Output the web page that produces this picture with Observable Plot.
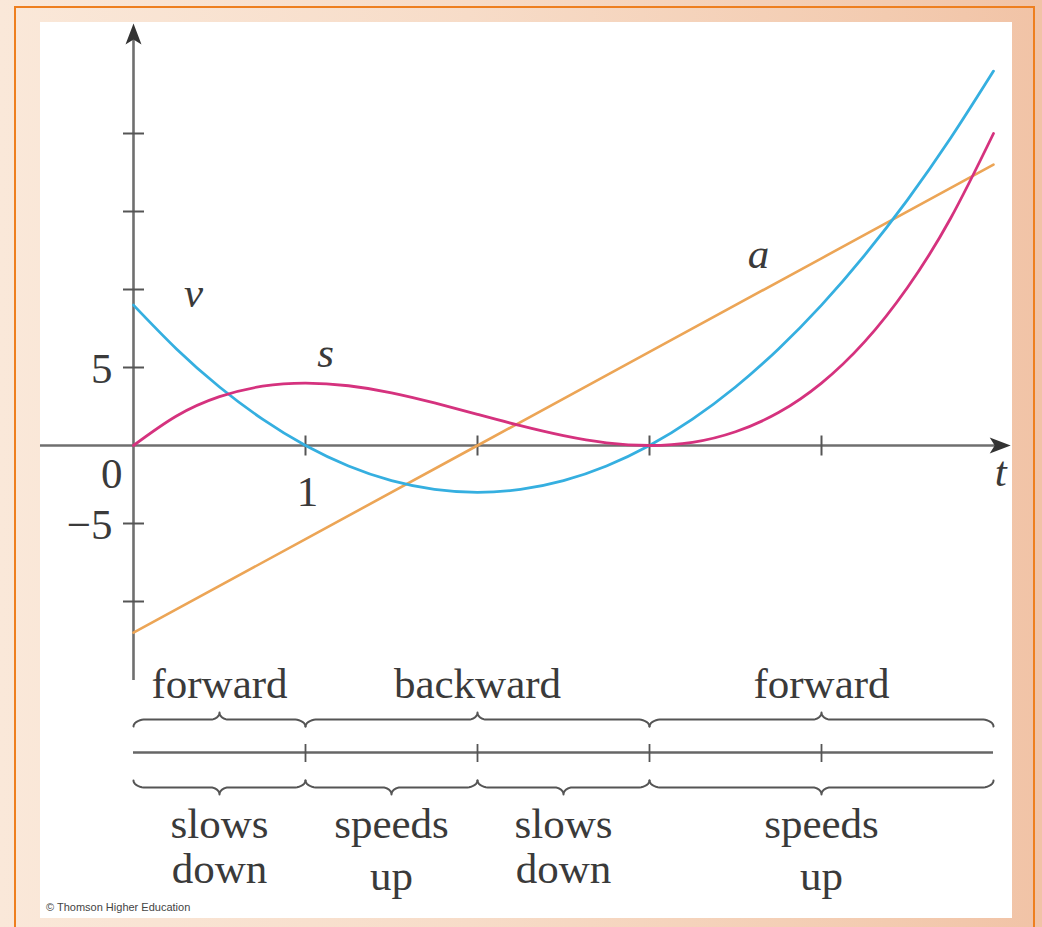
<!DOCTYPE html>
<html>
<head>
<meta charset="utf-8">
<script src="https://cdn.jsdelivr.net/npm/d3@7"></script>
<script src="https://cdn.jsdelivr.net/npm/@observablehq/plot@0.6"></script>
<style>
  body { margin: 0; }
  #page { position: relative; width: 1042px; height: 927px; overflow: hidden;
    background: linear-gradient(90deg, #fae8d9 0%, #f7dcc8 45%, #f3cbb0 85%, #f1c3a6 100%); }
  #frame { position: absolute; left: 14px; top: 6px; width: 1021px; height: 960px;
    border: 2px solid #ee7f1f; box-sizing: border-box; }
  #paper { position: absolute; left: 40px; top: 22px; width: 972px; height: 896px; background: #fff; }
  #main { position: absolute; left: 0; top: 0; }
  #lanes { position: absolute; left: 0; top: 628px; }
  #credit { position: absolute; left: 6px; top: 878px; font: 11px "Liberation Sans", Arial, sans-serif;
    color: #444; line-height: 14px; white-space: nowrap; }
  svg { overflow: visible; }
</style>
</head>
<body>
<div id="page">
  <div id="frame"></div>
  <div id="paper">
    <div id="main"></div>
    <div id="lanes"></div>
    <div id="credit">© Thomson Higher Education</div>
  </div>
</div>
<script>
// ---- data ----
const tValues = [0, 0.25, 0.5, 0.75, 1, 1.25, 1.5, 1.75, 2, 2.25, 2.5, 2.75, 3, 3.25, 3.5, 3.75, 4, 4.25, 4.5, 4.75, 5];
const sValues = [0, 1.89, 3.13, 3.8, 4, 3.83, 3.38, 2.73, 2, 1.27, 0.63, 0.17, 0, 0.2, 0.88, 2.11, 4, 6.64, 10.13, 14.55, 20];
const vValues = [9, 6.19, 3.75, 1.69, 0, -1.31, -2.25, -2.81, -3, -2.81, -2.25, -1.31, 0, 1.69, 3.75, 6.19, 9, 12.19, 15.75, 19.69, 24];
const aTimes = [0, 1, 2, 3, 4, 5];
const aValues = [-12, -6, 0, 6, 12, 18];
const yTickValues = [-10, -5, 5, 10, 15, 20];
const yTickLabelValues = [5, -5];
const yTickLabelTexts = ["5", "−5"];
const xTickValues = [1, 2, 3, 4];
const directionLabels = ["forward", "backward", "forward"];
const directionStarts = [0, 1, 3];
const directionEnds = [1, 3, 5];
const speedLine1 = ["slows", "speeds", "slows", "speeds"];
const speedLine2 = ["down", "up", "down", "up"];
const speedStarts = [0, 1, 2, 3];
const speedEnds = [1, 2, 3, 5];

// ---- tables built from the arrays ----
const sData = tValues.map((t, i) => ({t, value: sValues[i]}));
const vData = tValues.map((t, i) => ({t, value: vValues[i]}));
const aData = aTimes.map((t, i) => ({t, value: aValues[i]}));
const yLabelData = yTickLabelValues.map((v, i) => ({v, text: yTickLabelTexts[i]}));
const dirData = directionLabels.map((label, i) => ({label, t0: directionStarts[i], t1: directionEnds[i], mid: (directionStarts[i] + directionEnds[i]) / 2}));
const speedData = speedLine1.map((l1, i) => ({l1, l2: speedLine2[i], t0: speedStarts[i], t1: speedEnds[i], mid: (speedStarts[i] + speedEnds[i]) / 2}));

// ---- layout ----
const W = 972;
const x0px = 93, kx = 172;           // pixel of t=0, pixels per unit t
const y0px = 423, ky = 15.6;         // pixel of value 0, pixels per unit
const xDomain = [-0.5407, 5.1];
const yDomain = [-15.06, 27.05];
const xRange = xDomain.map(d => x0px + kx * d);
const yRange = yDomain.map(d => y0px - ky * d);
const xs = d3.scaleLinear(xDomain, xRange);

const serif = '"Liberation Serif", "Times New Roman", serif';
const ink = "#3a3a3a";
const axisGray = "#6f6f6f";
const blue = "#35afe0", magenta = "#d5327e", orange = "#eca556";

const hSeg = {draw(ctx) { ctx.moveTo(-10.5, 0); ctx.lineTo(10.5, 0); }};
const vSeg = {draw(ctx) { ctx.moveTo(0, -10); ctx.lineTo(0, 10); }};
const arrowHead = {draw(ctx) { ctx.moveTo(0, 0); ctx.lineTo(-8, 21); ctx.lineTo(0, 16); ctx.lineTo(8, 21); ctx.closePath(); }};

const main = Plot.plot({
  width: W, height: 668, margin: 0,
  style: {background: "transparent", overflow: "visible"},
  x: {domain: xDomain, range: xRange, axis: null},
  y: {domain: yDomain, range: yRange, axis: null},
  marks: [
    // axes
    Plot.ruleX([0], {y1: yDomain[0], y2: yDomain[1] - 1, stroke: axisGray, strokeWidth: 2.6}),
    Plot.ruleY([0], {x1: xDomain[0], x2: xDomain[1] - 0.06, stroke: axisGray, strokeWidth: 2.6}),
    Plot.dot([0], {x: 0, y: yDomain[1], symbol: arrowHead, fill: "#333", stroke: "none"}),
    Plot.dot([0], {x: xDomain[1], y: 0, symbol: arrowHead, rotate: 90, fill: "#333", stroke: "none"}),
    Plot.dot(yTickValues, {x: 0, y: d => d, symbol: hSeg, fill: "none", stroke: "#555", strokeWidth: 2}),
    Plot.dot(xTickValues, {x: d => d, y: 0, symbol: vSeg, fill: "none", stroke: "#555", strokeWidth: 2}),
    // curves
    Plot.line(aData, {x: "t", y: "value", stroke: orange, strokeWidth: 2.6}),
    Plot.line(vData, {x: "t", y: "value", stroke: blue, strokeWidth: 2.8, curve: "natural"}),
    Plot.line(sData, {x: "t", y: "value", stroke: magenta, strokeWidth: 2.8, curve: "natural"}),
    // tick labels
    Plot.text(yLabelData, {x: 0, y: "v", text: "text", textAnchor: "end", lineAnchor: "bottom", dx: -21, dy: 15,
      fontFamily: serif, fontSize: 43, fill: ink}),
    Plot.text(["0"], {x: 0, y: 0, text: d => d, textAnchor: "end", lineAnchor: "bottom", dx: -11, dy: 42,
      fontFamily: serif, fontSize: 43, fill: ink}),
    Plot.text(["1"], {x: 1, y: 0, text: d => d, textAnchor: "middle", lineAnchor: "bottom", dx: 2, dy: 60,
      fontFamily: serif, fontSize: 43, fill: ink}),
    Plot.text(["t"], {x: xDomain[1], y: 0, text: d => d, textAnchor: "middle", lineAnchor: "bottom", dx: -10, dy: 40,
      fontFamily: serif, fontStyle: "italic", fontSize: 43, fill: ink}),
    // curve labels
    Plot.text([vData[0]], {x: "t", y: "value", text: () => "v", textAnchor: "middle", lineAnchor: "bottom", dx: 60, dy: 2,
      fontFamily: serif, fontStyle: "italic", fontSize: 43, fill: ink}),
    Plot.text([sData[4]], {x: "t", y: "value", text: () => "s", textAnchor: "middle", lineAnchor: "bottom", dx: 20, dy: -16,
      fontFamily: serif, fontStyle: "italic", fontSize: 43, fill: ink}),
    Plot.text([{t: 3.5, value: 9}], {x: "t", y: "value", text: () => "a", textAnchor: "middle", lineAnchor: "bottom", dx: 23, dy: -37,
      fontFamily: serif, fontStyle: "italic", fontSize: 43, fill: ink})
  ]
});
document.getElementById("main").appendChild(main);

// ---- sign diagram below ----
function brace(a, b, yLine, dir, id) {
  const pa = xs(a), pb = xs(b), pm = (pa + pb) / 2;
  const rEnd = 12, rTip = 9, h = 7, N = 10;
  const pts = [];
  for (let i = 0; i <= N; i++) { const th = i / N * Math.PI / 2; pts.push([pa + rEnd * (1 - Math.cos(th)), yLine - dir * h * (1 - Math.sin(th))]); }
  for (let i = 0; i <= N; i++) { const th = i / N * Math.PI / 2; pts.push([pm - rTip + rTip * Math.sin(th), yLine + dir * h * (1 - Math.cos(th))]); }
  for (let i = N; i >= 0; i--) { const th = i / N * Math.PI / 2; pts.push([pm + rTip - rTip * Math.sin(th), yLine + dir * h * (1 - Math.cos(th))]); }
  for (let i = N; i >= 0; i--) { const th = i / N * Math.PI / 2; pts.push([pb - rEnd * (1 - Math.cos(th)), yLine - dir * h * (1 - Math.sin(th))]); }
  return pts.map(([px, py]) => ({t: xs.invert(px), y: py, id}));
}
const topBraces = dirData.flatMap((d, i) => brace(d.t0, d.t1, 69, -1, "top" + i));
const bottomBraces = speedData.flatMap((d, i) => brace(d.t0, d.t1, 137, 1, "bot" + i));

const lanes = Plot.plot({
  width: W, height: 268, margin: 0,
  style: {background: "transparent", overflow: "visible"},
  x: {domain: xDomain, range: xRange, axis: null},
  y: {type: "identity", axis: null},
  marks: [
    Plot.text(dirData, {x: "mid", y: 47, text: "label", textAnchor: "middle", lineAnchor: "bottom",
      fontFamily: serif, fontSize: 43, fill: ink}),
    Plot.line(topBraces, {x: "t", y: "y", z: "id", stroke: "#555", strokeWidth: 2}),
    Plot.ruleY([102], {x1: 0, x2: 5, stroke: "#666", strokeWidth: 2.4}),
    Plot.ruleX(xTickValues, {y1: 94, y2: 112, stroke: "#555", strokeWidth: 1.8}),
    Plot.line(bottomBraces, {x: "t", y: "y", z: "id", stroke: "#555", strokeWidth: 2}),
    Plot.text(speedData, {x: "mid", y: 187, text: "l1", textAnchor: "middle", lineAnchor: "bottom",
      fontFamily: serif, fontSize: 43, fill: ink}),
    Plot.text(speedData, {x: "mid", y: d => d.l2 === "up" ? 239 : 232, text: "l2", textAnchor: "middle", lineAnchor: "bottom",
      fontFamily: serif, fontSize: 43, fill: ink})
  ]
});
document.getElementById("lanes").appendChild(lanes);
</script>
</body>
</html>
